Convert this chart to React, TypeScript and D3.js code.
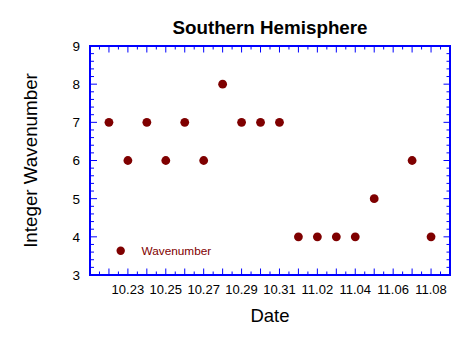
import * as d3 from "d3";

// day labels (month.day) and integer wavenumber for each observed day
const dates = ["10.22", "10.23", "10.24", "10.25", "10.26", "10.27", "10.28", "10.29", "10.30", "10.31",
  "11.01", "11.02", "11.03", "11.04", "11.05", "11.07", "11.08"];
const wavenumbers = [7, 6, 7, 6, 7, 6, 8, 7, 7, 7, 4, 4, 4, 4, 5, 6, 4];
const tickLabels = ["10.23", "10.25", "10.27", "10.29", "10.31", "11.02", "11.04", "11.06", "11.08"];
const xDomain = ["10.21", "11.09"];
const yDomain = [3, 9];
const yTickValues = [3, 4, 5, 6, 7, 8, 9];

const parse = (s: string) => d3.utcParse("%Y.%m.%d")("2000." + s) as Date;

const App = () => {
  const width = 471;
  const height = 345;
  const margin = { top: 46, right: 21, bottom: 70, left: 90 };
  const font = "'Liberation Sans', Arial, Helvetica, sans-serif";
  const axisColor = "#0000ff";
  const dotColor = "#7f0000";

  const x = d3.scaleUtc()
    .domain(xDomain.map(parse))
    .range([margin.left, width - margin.right]);
  const y = d3.scaleLinear()
    .domain(yDomain)
    .range([height - margin.bottom, margin.top]);

  const [x0, x1] = x.range();
  const [yb, yt] = y.range();

  const dayTicks = d3.utcDay.range(x.domain()[0], d3.utcDay.offset(x.domain()[1], 1));
  const halfTicks = d3.utcHour.every(12)!.range(x.domain()[0], x.domain()[1]).filter(d => d.getUTCHours() === 12);
  const minorY = d3.range(yDomain[0], yDomain[1], 0.2).filter(v => Math.abs(v - Math.round(v)) > 0.01);

  const points = dates.map((d, i) => ({ date: parse(d), value: wavenumbers[i] }));

  return (
    <svg width={width} height={height} style={{ position: "absolute", left: 0, top: 0, background: "#fff" }}
      fontFamily={font}>
      <text x={(x0 + x1) / 2} y={34} textAnchor="middle" fontWeight="bold" fontSize={18.8}>Southern Hemisphere</text>

      {/* x ticks, top and bottom, pointing inward */}
      {dayTicks.map((d, i) => (
        <g key={"dt" + i} stroke={axisColor} strokeWidth={1}>
          <line x1={x(d)} x2={x(d)} y1={yb} y2={yb - 6.5} />
          <line x1={x(d)} x2={x(d)} y1={yt} y2={yt + 6.5} />
        </g>
      ))}
      {halfTicks.map((d, i) => (
        <g key={"ht" + i} stroke={axisColor} strokeWidth={1}>
          <line x1={x(d)} x2={x(d)} y1={yb} y2={yb - 3.5} />
          <line x1={x(d)} x2={x(d)} y1={yt} y2={yt + 3.5} />
        </g>
      ))}
      {/* y ticks, left and right */}
      {yTickValues.map(v => (
        <g key={"yt" + v} stroke={axisColor} strokeWidth={1}>
          <line x1={x0} x2={x0 + 7} y1={y(v)} y2={y(v)} />
          <line x1={x1} x2={x1 - 6.5} y1={y(v)} y2={y(v)} />
        </g>
      ))}
      {minorY.map((v, i) => (
        <g key={"my" + i} stroke={axisColor} strokeWidth={1}>
          <line x1={x0} x2={x0 + 4} y1={y(v)} y2={y(v)} />
          <line x1={x1} x2={x1 - 3.5} y1={y(v)} y2={y(v)} />
        </g>
      ))}
      <rect x={x0} y={yt} width={x1 - x0} height={yb - yt} fill="none" stroke={axisColor} strokeWidth={2} />

      {yTickValues.map(v => (
        <text key={"yl" + v} x={x0 - 10} y={y(v)} dy="0.36em" textAnchor="end" fontSize={13.5}>{v}</text>
      ))}
      {tickLabels.map(t => (
        <text key={"xl" + t} x={x(parse(t))} y={294} textAnchor="middle" fontSize={13}>{t}</text>
      ))}

      <text x={(x0 + x1) / 2} y={322} textAnchor="middle" fontSize={18.5}>Date</text>
      <text transform={`translate(37,${(yt + yb) / 2}) rotate(-90)`} textAnchor="middle" fontSize={18.8}>
        Integer Wavenumber
      </text>

      {points.map((p, i) => (
        <circle key={i} cx={x(p.date)} cy={y(p.value)} r={4.4} fill={dotColor} />
      ))}

      <circle cx={120.7} cy={250.7} r={4.2} fill={dotColor} />
      <text x={141.5} y={254.5} fontSize={11.8} fill={dotColor}>Wavenumber</text>
    </svg>
  );
};

export default App;
